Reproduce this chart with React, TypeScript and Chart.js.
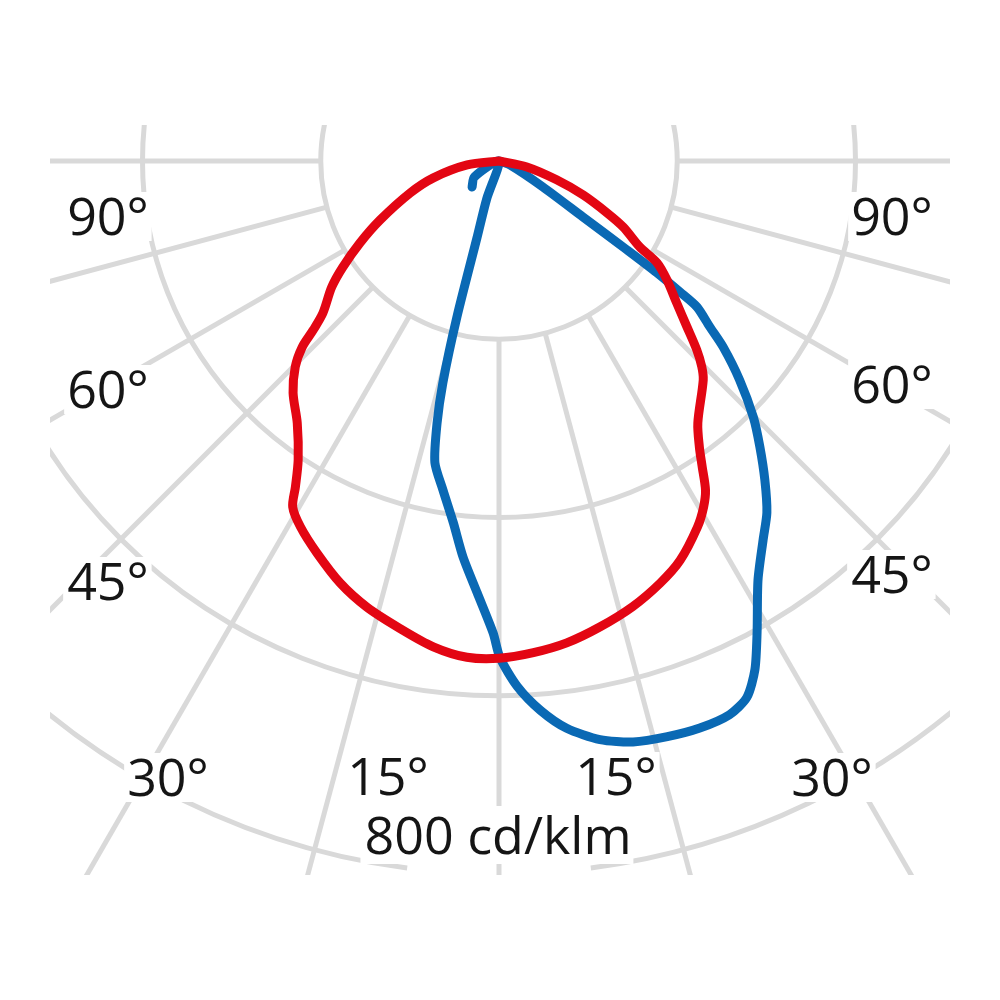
import React, { useEffect, useRef } from "react";
import { Chart, registerables } from "chart.js";

Chart.register(...registerables);

// Polar light distribution, angle in degrees from nadir (negative = left, positive = right), intensity in cd/klm
const redAngles = [-90, -82.9, -75.6, -70.2, -63.6, -59.5, -55.8, -53, -49.2, -47.7, -46.6, -44.7, -41.6, -37.6, -33.9, -32, -30.8, -28.5, -24.9, -20.6, -16.5, -12, -7.7, -3.7, 0, 4, 8, 12.2, 16.7, 20.9, 24.4, 28.5, 30.6, 32.1, 33.6, 35, 37.2, 43, 44.6, 46.3, 48.6, 51.4, 54.7, 57.2, 58.6, 62, 64.3, 68, 71.9, 77.9, 90];
const redValues = [0, 36, 76, 106, 149, 181, 212, 235, 261, 282, 304, 325, 348, 371, 404, 431, 452, 467, 485, 506, 522, 536, 550, 558, 558, 553, 546, 535, 522, 507, 492, 467, 451, 436, 412, 392, 369, 336, 324, 307, 281, 255, 231, 211, 185, 158, 135, 102, 68, 32, 0];

// blue path starts with the short hook left of the apex
const blueAngles = [-46, -57, -60, -18, -16, -15.1, -14.2, -13.3, -12, -9.7, -7.2, -5.2, -2.9, -0.7, 0.1, 2, 4.3, 6.8, 9.9, 13, 16.3, 19.5, 22.6, 24.8, 26.7, 28.7, 31.7, 34.9, 37.3, 39.8, 42.4, 44.8, 47.7, 50.3, 51.8, 53.6, 54.1, 54.7, 55.2, 56.3, 59.4, 70, 90];
const blueValues = [42, 33, 0, 45, 90, 181, 257, 302, 346, 374, 409, 446, 485, 530, 557, 590, 618, 641, 659, 669, 673, 675, 673, 663, 639, 603, 553, 518, 496, 466, 434, 405, 365, 327, 301, 276, 251, 217, 175, 113, 57, 13, 0];

const ringValues = [200, 400, 600, 800];
const spokeAngles = [-90, -75, -60, -45, -30, -15, 0, 15, 30, 45, 60, 75, 90];
const angleLabels = ["90°", "60°", "45°", "30°", "15°", "15°", "30°", "90°", "60°", "45°"];
const unitLabel = "800 cd/klm";

// layout (pixels)
const CENTER_PX = { x: 499, y: 161 };
const PX_PER_UNIT = 713 / 800;
const GRID_CLIP = { left: 50, top: 125, right: 950, bottom: 875 };
const OUTER_GAP_DEG = 7.4;
const LABEL_POS = [
  { x: 108, y: 235 },
  { x: 108, y: 408 },
  { x: 108, y: 600 },
  { x: 168, y: 796 },
  { x: 388, y: 795 },
  { x: 616, y: 795 },
  { x: 832, y: 796 },
  { x: 892, y: 235 },
  { x: 892, y: 403 },
  { x: 892, y: 593 },
];
const UNIT_POS = { x: 498, y: 854 };
const FONT = '52px "Open Sans"';
const GRID_COLOR = "#d9d9d9";
const RED = "#e30613";
const BLUE = "#0a69b4";

function toXY(angles: number[], values: number[]) {
  return angles.map((a, i) => {
    const t = (a * Math.PI) / 180;
    return { x: values[i] * Math.sin(t), y: -values[i] * Math.cos(t) };
  });
}

const gridPlugin = {
  id: "polarGrid",
  beforeDatasetsDraw(chart: any) {
    const { ctx } = chart;
    const xs = chart.scales.x;
    const ys = chart.scales.y;
    const px = (vx: number) => xs.getPixelForValue(vx);
    const py = (vy: number) => ys.getPixelForValue(vy);
    const cx = px(0);
    const cy = py(0);
    ctx.save();
    ctx.beginPath();
    ctx.rect(GRID_CLIP.left, GRID_CLIP.top, GRID_CLIP.right - GRID_CLIP.left, GRID_CLIP.bottom - GRID_CLIP.top);
    ctx.clip();
    ctx.strokeStyle = GRID_COLOR;
    ctx.lineWidth = 5;
    ctx.lineCap = "butt";
    const outer = ringValues[ringValues.length - 1];
    ringValues.forEach((v) => {
      const r = px(v) - cx;
      ctx.beginPath();
      if (v === outer) {
        const g = (OUTER_GAP_DEG * Math.PI) / 180;
        ctx.arc(cx, cy, r, Math.PI / 2 + g, Math.PI * 2.5 - g);
      } else {
        ctx.arc(cx, cy, r, 0, Math.PI * 2);
      }
      ctx.stroke();
    });
    const r0 = ringValues[0];
    const r1 = 1400;
    spokeAngles.forEach((a) => {
      const t = (a * Math.PI) / 180;
      ctx.beginPath();
      ctx.moveTo(px(r0 * Math.sin(t)), py(-r0 * Math.cos(t)));
      ctx.lineTo(px(r1 * Math.sin(t)), py(-r1 * Math.cos(t)));
      ctx.stroke();
    });
    ctx.restore();

    ctx.save();
    ctx.font = FONT;
    ctx.textAlign = "center";
    ctx.textBaseline = "alphabetic";
    const drawLabel = (text: string, x: number, y: number, padX: number, padY: number) => {
      const m = ctx.measureText(text);
      const w = m.actualBoundingBoxLeft + m.actualBoundingBoxRight;
      const asc = m.actualBoundingBoxAscent;
      const desc = m.actualBoundingBoxDescent;
      ctx.fillStyle = "#ffffff";
      ctx.fillRect(x - m.actualBoundingBoxLeft - padX, y - asc - padY, w + padX * 2, asc + desc + padY * 2);
      ctx.fillStyle = "#151515";
      ctx.fillText(text, x, y);
    };
    angleLabels.forEach((t, i) => drawLabel(t, LABEL_POS[i].x, LABEL_POS[i].y, 5, 5));
    drawLabel(unitLabel, UNIT_POS.x, UNIT_POS.y, 6, 9);
    ctx.restore();
  },
};

export default function App() {
  const ref = useRef<HTMLCanvasElement | null>(null);
  useEffect(() => {
    if (!ref.current) return;
    const chart = new Chart(ref.current, {
      type: "scatter",
      data: {
        datasets: [
          {
            data: toXY(redAngles, redValues),
            showLine: true,
            borderColor: RED,
            borderWidth: 9,
            pointRadius: 0,
            tension: 0.3,
            fill: false,
          } as any,
          {
            data: toXY(blueAngles, blueValues),
            showLine: true,
            borderColor: BLUE,
            borderWidth: 9,
            pointRadius: 0,
            tension: 0.25,
            fill: false,
          } as any,
        ],
      },
      options: {
        responsive: false,
        maintainAspectRatio: false,
        animation: false,
        layout: { padding: 0 },
        plugins: { legend: { display: false }, tooltip: { enabled: false } },
        elements: { line: { borderJoinStyle: "round", borderCapStyle: "round" } },
        scales: {
          x: {
            type: "linear",
            display: false,
            min: -CENTER_PX.x / PX_PER_UNIT,
            max: (1000 - CENTER_PX.x) / PX_PER_UNIT,
          },
          y: {
            type: "linear",
            display: false,
            min: -(1000 - CENTER_PX.y) / PX_PER_UNIT,
            max: CENTER_PX.y / PX_PER_UNIT,
          },
        },
      },
      plugins: [gridPlugin],
    });
    return () => chart.destroy();
  }, []);
  return (
    <div style={{ position: "absolute", left: 0, top: 0, width: 1000, height: 1000, background: "#fff" }}>
      <canvas ref={ref} width={1000} height={1000} />
    </div>
  );
}
